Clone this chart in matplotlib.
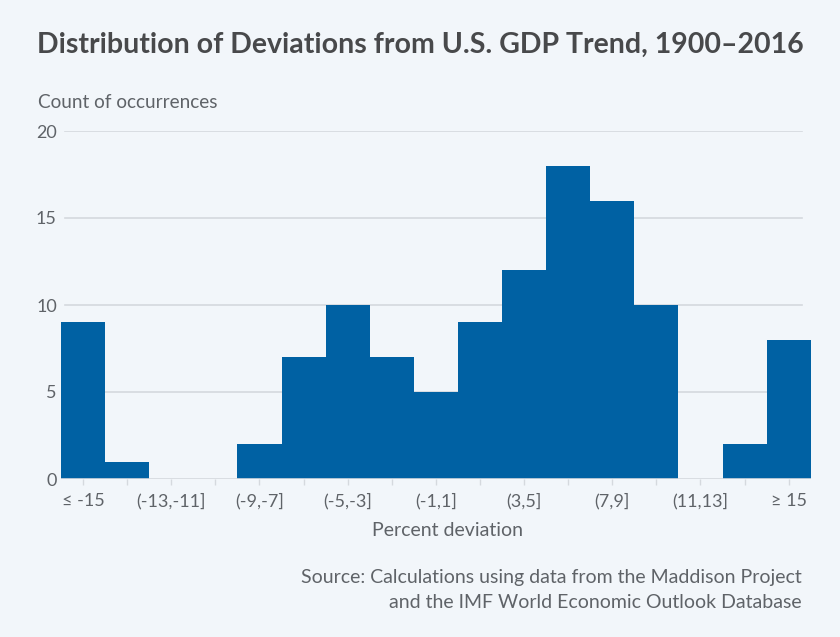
import matplotlib
matplotlib.use("Agg")
import matplotlib.pyplot as plt

plt.rcParams['font.family'] = ['Lato', 'DejaVu Sans']

categories = ["≤ -15", "(-15,-13]", "(-13,-11]", "(-11,-9]", "(-9,-7]", "(-7,-5]",
              "(-5,-3]", "(-3,-1]", "(-1,1]", "(1,3]", "(3,5]", "(5,7]", "(7,9]",
              "(9,11]", "(11,13]", "(13,15]", "≥ 15"]
counts = [9, 1, 0, 0, 2, 7, 10, 7, 5, 9, 12, 18, 16, 10, 0, 2, 8]
yticks = [0, 5, 10, 15, 20]

BG = "#f2f6fa"
BAR = "#0061a3"
GRID = "#d5d9de"
TXT = "#5f6368"

W, H = 840, 637
fig = plt.figure(figsize=(W/100, H/100), dpi=100, facecolor=BG)
left, right, top, bottom = 61, 810.7, 131, 479
ax = fig.add_axes([left/W, 1-bottom/H, (right-left)/W, (bottom-top)/H])
ax.set_facecolor(BG)

x = list(range(len(categories)))
ax.bar(x, counts, width=1.0, color=BAR, zorder=2, linewidth=0)
ax.set_xlim(-0.5, len(categories)-0.5)
ax.set_ylim(0, 20)

# gridlines (ending slightly before the right edge)
gx0 = (65-left)/(right-left)
gx1 = (802-left)/(right-left)
for yv in yticks[1:]:
    ax.axhline(yv, xmin=gx0, xmax=gx1, color=GRID, lw=1.2, zorder=1)
ax.axhline(0, color=GRID, lw=1.2, zorder=3)

for s in ax.spines.values():
    s.set_visible(False)

ax.set_yticks(yticks)
ax.set_yticklabels([str(v) for v in yticks])
ax.tick_params(axis='y', length=0, pad=3, labelsize=13, labelcolor=TXT)

ax.set_xticks(x)
ax.set_xticklabels([c if i % 2 == 0 else "" for i, c in enumerate(categories)])
ax.tick_params(axis='x', length=4, width=1, color=GRID, pad=6, labelsize=13, labelcolor=TXT)

fig.text(37/W, 1-45/H, "Distribution of Deviations from U.S. GDP Trend, 1900–2016",
         fontsize=20.5, fontweight='bold', color="#48494b", va='center', ha='left')
fig.text(38/W, 1-102/H, "Count of occurrences", fontsize=13.7, color=TXT,
         va='center', ha='left')
fig.text(448/W, 1-530/H, "Percent deviation", fontsize=14, color=TXT,
         va='center', ha='center')
fig.text(802/W, 1-577/H, "Source: Calculations using data from the Maddison Project",
         fontsize=14, color=TXT, va='center', ha='right')
fig.text(802/W, 1-602/H, "and the IMF World Economic Outlook Database",
         fontsize=14, color=TXT, va='center', ha='right')

fig.savefig("out.png", dpi=100, facecolor=BG)
